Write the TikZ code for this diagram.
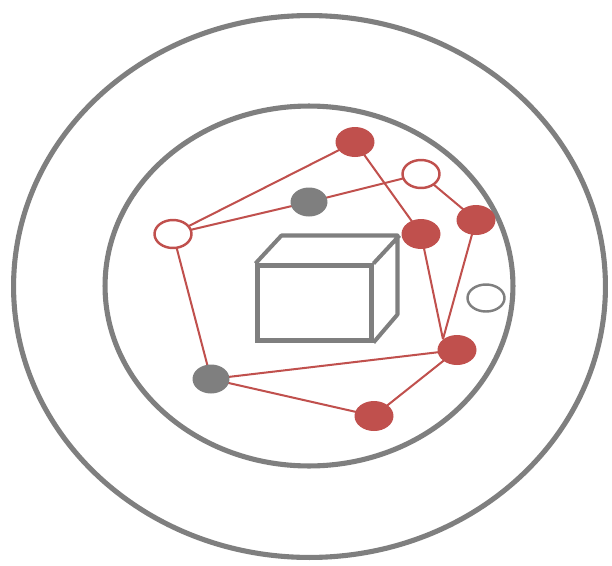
\documentclass[tikz,border=0pt]{standalone}
\usepackage{xcolor}
\usepackage{tikz}
\usetikzlibrary{shapes.geometric, backgrounds}
\definecolor{Brick}{HTML}{C0504D}
\definecolor{Slate}{HTML}{7F7F7F}

\begin{document}
\begin{tikzpicture}[
        x=0.02cm, y=-0.02cm,
        ring/.style={draw=Slate, line width=2.9pt},
        link/.style={draw=Brick, line width=1.15pt},
        full/.style={ellipse, fill=Brick, minimum width=0.78cm, minimum height=0.6cm, inner sep=0pt},
        grey/.style={ellipse, fill=Slate, minimum width=0.74cm, minimum height=0.58cm, inner sep=0pt},
        open/.style={ellipse, draw=Brick, fill=white, line width=1.4pt, minimum width=0.74cm, minimum height=0.56cm, inner sep=0pt},
        spare/.style={ellipse, draw=Slate, fill=white, line width=1.4pt, minimum width=0.74cm, minimum height=0.54cm, inner sep=0pt},
        cube/.style={draw=Slate, line width=2.3pt, minimum width=2.28cm, minimum height=1.5cm, inner sep=0pt}
      ]
        \useasboundingbox (0,0) rectangle (612,565);
        \draw[ring] (309.5,286.5) ellipse [x radius=5.92cm, y radius=5.42cm];
        \draw[ring] (309,286) ellipse [x radius=4.08cm, y radius=3.6cm];
        % box
        \node[cube] (box) at (314.5,303) {};
        \draw[draw=Slate, line width=2.3pt, line join=round]
          (box.north west) -- ++(26,-28) -- ++(116,0) -- ++(0,79) -- (box.south east)
          (box.north east) -- ++(26,-28);
        % nodes
        \node[full] (top) at (355,142) {};
        \node[open] (hub) at (421,174) {};
        \node[grey] (mid) at (309,202) {};
        \node[open] (west) at (173,234) {};
        \node[full] (east) at (421,234) {};
        \node[full] (rim) at (476,220) {};
        \node[spare] (lone) at (486,298) {};
        \node[full] (south) at (457,350) {};
        \node[grey] (base) at (211,379) {};
        \node[full] (low) at (374,416) {};
        % links
        \begin{scope}[on background layer]
        \draw[link] (west.center) -- (top.center);
        \draw[link] (west.center) -- (mid.center);
        \draw[link] (mid.center) -- (hub.center);
        \draw[link] (top.center) -- (east.center);
        \draw[link] (hub.center) -- (rim.center);
        \draw[link] (east.center) -- (south.north west);
        \draw[link] (rim.center) -- (south.north west);
        \draw[link] (west.center) -- (base.center);
        \draw[link] (base.center) -- (south.center);
        \draw[link] (base.center) -- (low.center);
        \draw[link] (low.center) -- (south.center);
        \end{scope}
      \end{tikzpicture}
\end{document}
